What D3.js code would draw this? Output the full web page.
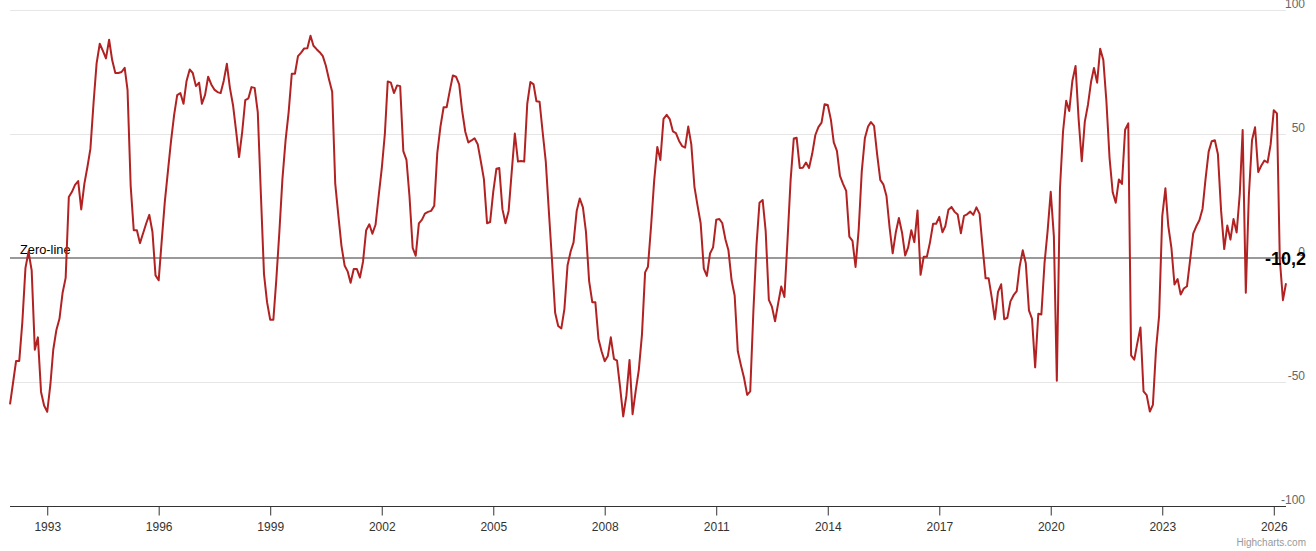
<!DOCTYPE html>
<html>
<head>
<meta charset="utf-8">
<script src="https://cdn.jsdelivr.net/npm/d3@7"></script>
<style>
  body { margin: 0; background: #fff; }
  svg { display: block; font-family: "Liberation Sans", Arial, Helvetica, sans-serif; }
</style>
</head>
<body>
<svg></svg>
<script>
// Monthly values, first point = January 1992
const startYear = 1992;
const values1992_1999 = [
  -59, -50, -41.5, -41.5, -26, -4, 2.5, -5, -37, -32, -54, -59.5,
  -62, -51, -37, -29, -24.5, -14, -8, 24.6, 26.7, 29.5, 31, 19.6,
  30, 37, 44, 62.5, 78.5, 86.4, 83.6, 80.5, 88, 79.8, 74.6, 74.6,
  75, 76.7, 67.8, 29, 11.2, 11.2, 6, 10, 14, 17.4, 10.5, -7,
  -9, 7.5, 22.5, 35, 47, 57.7, 65.7, 66.5, 62.2, 71.4, 76, 74.6,
  69.3, 70.7, 62.2, 65.8, 73.1, 70, 67.9, 66.9, 66.5, 71.4, 78.3, 68.6,
  61.5, 50.9, 40.7, 50.9, 63.7, 64.4, 68.9, 68.6, 58.7, 26.1, -6.5, -17.8,
  -24.9, -24.9, -9.3, 10.5, 31.8, 47.4, 58.7, 74.3, 74.3, 81.4, 82.8, 84.5
];
const values2000_2007 = [
  84.6, 89.6, 85.6, 84.2, 83, 81.4, 77.5, 72, 67, 30, 17, 5,
  -3, -5.5, -10, -4.4, -4.4, -7.9, -1.5, 11.2, 13.6, 9.8, 13.4, 24.7,
  36, 50.2, 71.2, 70.7, 66.5, 69.6, 69.3, 43.1, 39.6, 24.7, 4.1, 0.9,
  14, 15.5, 17.9, 18.6, 19, 21.1, 42.4, 53, 60.8, 60.8, 67.5, 73.6,
  73.1, 70, 59.4, 50.9, 46.6, 47.4, 48.3, 45.9, 38.9, 31.8, 14, 14.5,
  26.8, 36, 36.3, 19.7, 14, 19, 34.6, 50.2, 38.9, 39.1, 38.9, 62.2,
  71, 70, 63.2, 63, 50.9, 38.9, 19, -0.8, -22.1, -27.4, -28.4, -20.6,
  -2.9, 2.7, 6.3, 19, 24, 20.4, 10.5, -9.3, -17.8, -17.8, -32.7, -37.6
];
const values2008_2016 = [
  -41.6, -39.5, -32.0, -40.7, -41.4, -52.4, -63.9, -55.5, -41.1, -63.0, -53.5, -45.2,
  -31.0, -5.8, -3.5, 13.0, 31.1, 44.8, 39.5, 56.1, 57.7, 56.0, 51.1, 50.4,
  47.2, 45.1, 44.5, 53.0, 45.8, 28.7, 21.2, 14.0, -4.3, -7.2, 1.8, 4.3,
  15.4, 15.7, 14.1, 7.6, 3.1, -9.0, -15.1, -37.6, -43.3, -48.3, -55.2, -53.8,
  -21.6, 5.4, 22.3, 23.4, 10.8, -16.9, -19.6, -25.5, -18.2, -11.5, -15.7, 6.9,
  31.5, 48.2, 48.5, 36.3, 36.4, 38.5, 36.3, 42.0, 49.6, 52.8, 54.6, 62.0,
  61.7, 55.7, 46.6, 43.2, 33.1, 29.8, 27.1, 8.6, 6.9, -3.6, 11.5, 34.9,
  48.4, 53.0, 54.8, 53.3, 41.9, 31.5, 29.7, 25.0, 12.1, 1.9, 10.4, 16.1,
  10.2, 1.0, 4.3, 11.2, 6.4, 19.2, -6.8, 0.5, 0.5, 6.2, 13.8, 13.8
];
const values2017_2026 = [
  16.6, 10.4, 12.8, 19.5, 20.6, 18.6, 17.5, 10.0, 17.0, 17.6, 18.7, 17.4,
  20.4, 17.8, 5.1, -8.2, -8.2, -16.1, -24.7, -13.7, -10.6, -24.7, -24.1, -17.5,
  -15.0, -13.4, -3.6, 3.1, -2.1, -21.1, -24.5, -44.1, -22.5, -22.8, -2.1, 10.7,
  26.7, 8.7, -49.5, 28.2, 51.0, 63.4, 59.3, 71.5, 77.4, 56.1, 39.0, 55.0,
  61.8, 71.2, 76.6, 70.7, 84.4, 79.8, 63.3, 40.4, 26.5, 22.3, 31.7, 29.9,
  51.7, 54.3, -39.3, -41.0, -34.3, -28.0, -53.8, -55.3, -61.9, -59.2, -36.7, -23.3,
  16.9, 28.1, 13.0, 4.1, -10.7, -8.5, -14.7, -12.3, -11.4, -1.1, 9.8, 12.8,
  15.2, 19.9, 31.7, 42.9, 47.1, 47.5, 41.8, 19.2, 3.6, 13.1, 7.4, 15.7,
  10.3, 26.0, 51.6, -14.0, 25.2, 47.5, 52.7, 34.7, 37.3, 39.3, 38.5, 45.8,
  59.6, 58.3, -0.5, -17.0, -10.2
];
const yTicks = [-100, -50, 0, 50, 100];
const xTickYears = [1993, 1996, 1999, 2002, 2005, 2008, 2011, 2014, 2017, 2020, 2023, 2026];
const zeroLineLabel = "Zero-line";
const lastValueLabel = "-10,2";

const values = [].concat(values1992_1999, values2000_2007, values2008_2016, values2017_2026);
const data = values.map((v, i) => ({ date: new Date(startYear, i, 1), value: v }));

// Size and plot area
const width = 1316, height = 551;
const plot = { left: 10, right: 1286, top: 10, bottom: 506 };

const svg = d3.select("svg")
    .attr("width", width)
    .attr("height", height);

const x = d3.scaleTime()
    .domain(d3.extent(data, d => d.date))
    .range([plot.left, plot.right]);

const y = d3.scaleLinear()
    .domain([-100, 100])
    .range([plot.bottom, plot.top]);

// Grid lines
svg.append("g")
  .selectAll("line")
  .data(yTicks.filter(t => t !== -100))
  .join("line")
    .attr("x1", plot.left)
    .attr("x2", plot.right)
    .attr("y1", d => y(d) + 0.5)
    .attr("y2", d => y(d) + 0.5)
    .attr("stroke", "#e6e6e6")
    .attr("stroke-width", 1);

// Y axis labels (right side, above the grid line)
svg.append("g")
  .selectAll("text")
  .data(yTicks)
  .join("text")
    .attr("x", 1305)
    .attr("y", d => y(d) - 2)
    .attr("text-anchor", "end")
    .attr("font-size", 12)
    .attr("fill", "#666")
    .text(d => d);

// X axis
const xAxis = d3.axisBottom(x)
    .tickValues(xTickYears.map(yr => new Date(yr, 0, 1)))
    .tickFormat(d3.timeFormat("%Y"))
    .tickSize(9)
    .tickPadding(7);

const gx = svg.append("g")
    .attr("transform", `translate(0,${plot.bottom + 0.5})`)
    .call(xAxis);
gx.select(".domain")
    .attr("d", `M${plot.left},0H${plot.right}`)
    .attr("stroke", "#333");
gx.selectAll(".tick line").attr("stroke", "#333");
gx.selectAll(".tick text")
    .attr("font-size", 12)
    .attr("font-family", "Liberation Sans, Arial, sans-serif")
    .attr("fill", "#333");

// Zero line
svg.append("line")
    .attr("x1", plot.left)
    .attr("x2", plot.right)
    .attr("y1", y(0))
    .attr("y2", y(0))
    .attr("stroke", "#999")
    .attr("stroke-width", 2);

svg.append("text")
    .attr("x", 20)
    .attr("y", y(0) - 4)
    .attr("font-size", 12.8)
    .attr("fill", "#000")
    .text(zeroLineLabel);

// Series line
const line = d3.line()
    .x(d => x(d.date))
    .y(d => y(d.value));

svg.append("path")
    .datum(data)
    .attr("fill", "none")
    .attr("stroke", "#b22222")
    .attr("stroke-width", 2)
    .attr("stroke-linejoin", "round")
    .attr("d", line);

// Last value label
svg.append("text")
    .attr("x", 1306)
    .attr("y", y(0) + 7)
    .attr("text-anchor", "end")
    .attr("font-size", 18)
    .attr("font-weight", "bold")
    .attr("fill", "#000")
    .text(lastValueLabel);

// Credits
svg.append("text")
    .attr("x", 1306)
    .attr("y", 546)
    .attr("text-anchor", "end")
    .attr("font-size", 10)
    .attr("fill", "#999")
    .text("Highcharts.com");
</script>
</body>
</html>
